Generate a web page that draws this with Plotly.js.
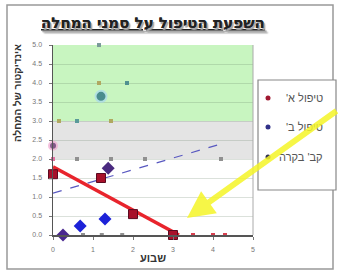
<!DOCTYPE html>
<html><head><meta charset="utf-8">
<script src="https://cdn.plot.ly/plotly-3.0.1.min.js"></script>
<style>html,body{margin:0;padding:0;background:#fff;overflow:hidden}</style>
</head><body><div id="chart" style="width:338px;height:273px"></div>
<script>
// ---- text ----
const chartTitle = "השפעת הטיפול על סמני המחלה";
const xTitle = "שבוע";
const yTitle = "אינדיקטור של המחלה";
const seriesNames = ["טיפול א'\u200F", "טיפול ב'\u200F", "קב' בקרה"];
const yTickVals = [0, 0.5, 1, 1.5, 2, 2.5, 3, 3.5, 4, 4.5, 5];
const xTickVals = [0, 1, 2, 3, 4, 5];

// ---- treatment A (red squares) ----
const aX = [0, 1.2, 2, 3];
const aY = [1.6, 1.5, 0.55, 0];

// ---- treatment B (blue diamonds) ----
const bX = [0.25, 0.68, 1.3, 1.38];
const bY = [0, 0.24, 0.42, 1.76];
// dashed trend line
const bTrendX = [0, 4.15];
const bTrendY = [1.1, 2.38];

// ---- control group (small marks) ----
const cX = [1.15, 1.15, 1.85, 0.15, 0.6, 1.45, 0, 0.6, 1.45, 2.3, 4.2, 0.75, 1.22, 1.73, 3.5, 4.0, 4.3];
const cY = [5.0, 4.0, 4.0, 3.0, 3.0, 3.0, 2.0, 2.0, 2.0, 2.0, 2.0, 0, 0, 0, 0, 0, 0];

// ---- large circles ----
const dX = [1.2, 0];
const dY = [3.65, 2.35];

// linear regression for red trend line
function fit(xs, ys) {
  const n = xs.length;
  const mx = xs.reduce((s, v) => s + v, 0) / n;
  const my = ys.reduce((s, v) => s + v, 0) / n;
  let sxy = 0, sxx = 0;
  for (let i = 0; i < n; i++) { sxy += (xs[i] - mx) * (ys[i] - my); sxx += (xs[i] - mx) ** 2; }
  const m = sxy / sxx; return { m: m, b: my - m * mx };
}
const fa = fit(aX, aY);
const aEnd = -fa.b / fa.m;
const aTrendX = [0, aEnd];
const aTrendY = aTrendX.map(x => fa.m * x + fa.b);

const cColors = ['#7a9a9a', '#b0a860', '#4f9090', '#b0a860', '#5a9a9a', '#b0a860', '#e070a0', '#909090', '#909090', '#909090', '#909090', '#909090', '#909090', '#909090', '#d84050', '#d84050', '#d84050'];

const traces = [
  { x: cX, y: cY, mode: 'markers', type: 'scatter', showlegend: false, cliponaxis: false,
    marker: { symbol: 'square', size: 4, color: cColors } },
  { x: bTrendX, y: bTrendY, mode: 'lines', type: 'scatter', showlegend: false,
    line: { color: '#5858c0', width: 1.2, dash: 'dash' } },
  { x: aTrendX, y: aTrendY, mode: 'lines', type: 'scatter', showlegend: false,
    line: { color: '#e8242c', width: 3.5 } },
  { x: aX, y: aY, mode: 'markers', type: 'scatter', showlegend: false, cliponaxis: false,
    marker: { symbol: 'square', size: 9, color: '#a8102a', line: { color: '#5a0a20', width: 1 } } },
  { x: bX, y: bY, mode: 'markers', type: 'scatter', showlegend: false, cliponaxis: false,
    marker: { symbol: 'diamond', size: 10, color: ['#4a2890', '#1c22d8', '#1c22d8', '#4a2a80'] } },
  { x: dX, y: dY, mode: 'markers', type: 'scatter', showlegend: false, cliponaxis: false,
    marker: { symbol: 'circle', size: [11, 8], color: ['#14607a', '#5a1e60'], line: { color: ['#a8d8f0', '#f0a8d0'], width: 2 } } }
];

const FONT = 'Liberation Sans, Arial, sans-serif';
// plot area in px: x 53..253, y 45..235
const px = v => (v - 53) / 200;
const py = v => (235 - v) / 190;
const legendRows = [98, 127, 157];
const legendColors = ['#a01830', '#303088', '#303050'];

const shapes = [
  { type: 'rect', xref: 'paper', yref: 'y', x0: 0, x1: 1, y0: 3, y1: 5, fillcolor: '#c8f5c0', line: { width: 0 }, layer: 'below' },
  { type: 'rect', xref: 'paper', yref: 'y', x0: 0, x1: 1, y0: 2, y1: 3, fillcolor: '#e4e4e4', line: { width: 0 }, layer: 'below' },
  { type: 'line', xref: 'paper', yref: 'paper', x0: 1, x1: 1, y0: 0, y1: 1, line: { color: '#aaa', width: 1 } },
  { type: 'rect', xref: 'paper', yref: 'paper', x0: px(7), x1: px(333), y0: py(269), y1: py(5), line: { color: '#999', width: 1.5 } },
  { type: 'rect', xref: 'paper', yref: 'paper', x0: px(258), x1: px(336), y0: py(190), y1: py(80), fillcolor: '#fff', line: { color: '#888', width: 1.2 } }
];
legendRows.forEach((r, i) => shapes.push({ type: 'circle', xref: 'paper', yref: 'paper',
  xsizemode: 'pixel', ysizemode: 'pixel', xanchor: px(268), yanchor: py(r), x0: -2.5, x1: 2.5, y0: -2.5, y1: 2.5,
  fillcolor: legendColors[i], line: { width: 0 } }));

const annotations = [
  { text: '<b><u>' + chartTitle + '</u></b>', xref: 'paper', yref: 'paper', x: 0.5, y: py(23),
    xanchor: 'center', yanchor: 'middle', showarrow: false,
    font: { size: 15, color: '#222', family: 'DejaVu Sans, sans-serif', shadow: '1.5px 1.5px 1px #aaa' } },
  { text: '<b>' + yTitle + '</b>', xref: 'paper', yref: 'paper', x: px(17), y: py(93), textangle: -90,
    xanchor: 'center', yanchor: 'middle', showarrow: false,
    font: { size: 10, color: '#333', family: FONT } },
  { text: '<b>' + xTitle + '</b>', xref: 'paper', yref: 'paper', x: 0.5, y: py(258),
    xanchor: 'center', yanchor: 'middle', showarrow: false,
    font: { size: 11, color: '#333', family: FONT } }
];
legendRows.forEach((r, i) => annotations.push({ text: seriesNames[i], xref: 'paper', yref: 'paper',
  x: px(325), y: py(r), xanchor: 'right', yanchor: 'middle', showarrow: false,
  font: { size: 11, color: '#555', family: FONT } }));
annotations.push({ text: '', x: 3.35, y: 0.45, xref: 'x', yref: 'y', showarrow: true, ax: 161, ay: -108,
  arrowcolor: 'rgba(245,245,40,0.85)', arrowwidth: 6, arrowhead: 2, arrowsize: 0.9, standoff: 0 });

const layout = {
  width: 338, height: 273,
  margin: { l: 53, r: 85, t: 45, b: 38 },
  paper_bgcolor: '#ffffff', plot_bgcolor: '#ffffff',
  font: { family: FONT, color: '#333' },
  showlegend: false,
  xaxis: { range: [0, 5], tickvals: xTickVals, ticks: 'outside', ticklen: 3, tickcolor: '#777',
    showgrid: false, zeroline: false, showline: true, linecolor: '#555', linewidth: 1.5,
    tickfont: { size: 7, color: '#777' }, ticklabelstandoff: 4 },
  yaxis: { range: [0, 5.001], tickvals: yTickVals, tickformat: '.1f', ticks: 'outside', ticklen: 3, tickcolor: '#777',
    showgrid: true, gridcolor: 'rgba(90,120,90,0.22)', gridwidth: 1, zeroline: false,
    showline: true, linecolor: '#555', linewidth: 1.5,
    tickfont: { size: 7, color: '#777' }, ticklabelstandoff: 5 },
  shapes: shapes,
  annotations: annotations
};

Plotly.newPlot('chart', traces, layout, { displayModeBar: false, staticPlot: true });
</script></body></html>
